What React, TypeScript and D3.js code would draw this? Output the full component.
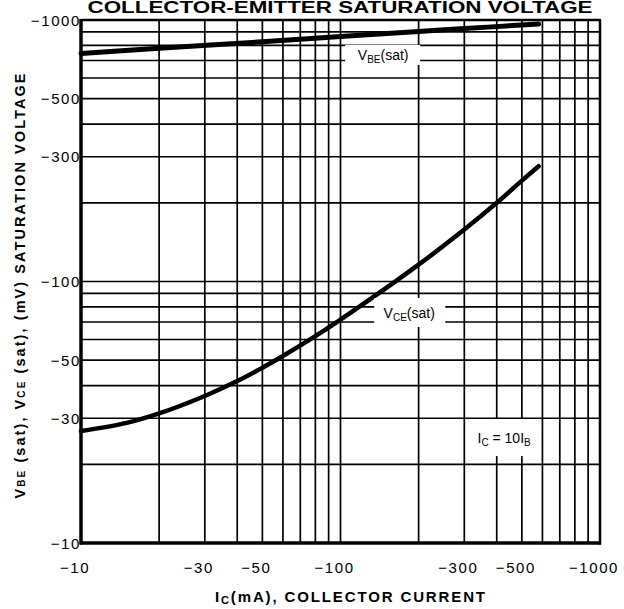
import React from "react";
import * as d3 from "d3";

const W = 624;
const H = 609;

// grid values (log decades)
const gridValues = [10, 20, 30, 40, 50, 60, 70, 80, 90, 100, 200, 300, 400, 500, 600, 700, 800, 900, 1000];
const xTickValues = [10, 30, 50, 100, 300, 500, 1000];
const yTickValues = [10, 30, 50, 100, 300, 500, 1000];

// V_BE(sat) curve
const icVbe = [10, 20, 50, 100, 200, 300, 500, 580];
const vbeSat = [745, 780, 825, 865, 904, 927, 957, 965];

// V_CE(sat) curve
const icVce = [10, 15, 20, 30, 40, 50, 60, 80, 100, 200, 300, 400, 500, 580];
const vceSat = [26.8, 28.8, 31.3, 36.5, 41.6, 46.8, 51.9, 61.8, 71.5, 116, 158, 200, 243, 276];

const FONT = "'Liberation Sans', Arial, Helvetica, sans-serif";

export default function App() {
  const left = 81, right = 600, top = 20, bottom = 543;
  const x = d3.scaleLog().domain([10, 1000]).range([left, right]);
  const y = d3.scaleLog().domain([10, 1000]).range([bottom, top]);

  const line = d3
    .line<[number, number]>()
    .x((d) => x(d[0]))
    .y((d) => y(d[1]))
    .curve(d3.curveCatmullRom.alpha(0.5));

  const vbePath = line(icVbe.map((v, i) => [v, vbeSat[i]]) as [number, number][]) || "";
  const vcePath = line(icVce.map((v, i) => [v, vceSat[i]]) as [number, number][]) || "";

  const fmt = (v: number) => "\u2212" + v;

  return (
    <svg
      width={W}
      height={H}
      viewBox={`0 0 ${W} ${H}`}
      style={{ position: "absolute", left: 0, top: 0, background: "#fff" }}
    >
      <rect x={0} y={0} width={W} height={H} fill="#fff" />
      {/* title */}
      <text
        x={340}
        y={12.5}
        textAnchor="middle"
        fontFamily={FONT}
        fontWeight="bold"
        fontSize={16}
        textLength={505}
        lengthAdjust="spacingAndGlyphs"
        fill="#000"
      >
        COLLECTOR-EMITTER SATURATION VOLTAGE
      </text>

      {/* grid */}
      <g stroke="#000" strokeWidth={1.7}>
        {gridValues.map((v) => (
          <line key={"gx" + v} x1={x(v)} x2={x(v)} y1={top} y2={bottom} />
        ))}
        {gridValues.map((v) => (
          <line key={"gy" + v} x1={left} x2={right} y1={y(v)} y2={y(v)} />
        ))}
      </g>

      {/* frame */}
      <line x1={left} x2={left} y1={top - 1} y2={bottom + 1.5} stroke="#000" strokeWidth={3.5} />
      <line x1={left - 1} x2={right + 1} y1={bottom} y2={bottom} stroke="#000" strokeWidth={3.5} />
      <line x1={left} x2={right + 1} y1={top} y2={top} stroke="#000" strokeWidth={2.5} />
      <line x1={right} x2={right} y1={top} y2={bottom + 1.5} stroke="#000" strokeWidth={2.5} />

      {/* curves */}
      <path d={vbePath} fill="none" stroke="#000" strokeWidth={5} strokeLinecap="round" />
      <path d={vcePath} fill="none" stroke="#000" strokeWidth={4.5} strokeLinecap="round" />

      {/* V_BE(sat) label */}
      <g fontFamily={FONT} fill="#000">
        <rect x={x(146) - 38} y={y(735) - 10} width={75} height={20} fill="#fff" />
        <text x={x(146)} y={y(735) + 5} textAnchor="middle" fontSize={14}>
          V<tspan fontSize={10} dy={3}>BE</tspan>
          <tspan dy={-3}>(sat)</tspan>
        </text>
      </g>

      {/* V_CE(sat) label */}
      <g fontFamily={FONT} fill="#000">
        <rect x={x(184) - 35} y={y(75.8) - 15} width={71} height={29} fill="#fff" />
        <text x={x(184)} y={y(75.8) + 5} textAnchor="middle" fontSize={14}>
          V<tspan fontSize={10} dy={3}>CE</tspan>
          <tspan dy={-3}>(sat)</tspan>
        </text>
      </g>

      {/* I_C = 10 I_B label */}
      <g fontFamily={FONT} fill="#000">
        <rect x={x(427) - 34} y={y(25.2) - 19} width={70} height={37} fill="#fff" />
        <text x={x(427)} y={y(25.2) + 5} textAnchor="middle" fontSize={14}>
          I<tspan fontSize={10} dy={3}>C</tspan>
          <tspan dy={-3}>{" = 10I"}</tspan>
          <tspan fontSize={10} dy={3}>B</tspan>
        </text>
      </g>

      {/* y tick labels */}
      <g fontFamily={FONT} fontSize={15} fill="#000" letterSpacing={1.6}>
        {yTickValues.map((v) => (
          <text key={"yt" + v} x={left} y={y(v) + 5.5} textAnchor="end">
            {fmt(v)}
          </text>
        ))}
      </g>

      {/* x tick labels */}
      <g fontFamily={FONT} fontSize={15} fill="#000" letterSpacing={1.6}>
        {xTickValues.map((v) => (
          <text key={"xt" + v} x={x(v) - 6} y={573} textAnchor="middle">
            {fmt(v)}
          </text>
        ))}
      </g>

      {/* x axis title */}
      <text
        x={350}
        y={602}
        textAnchor="middle"
        fontFamily={FONT}
        fontWeight="bold"
        fontSize={15}
        fill="#000"
        textLength={270}
        lengthAdjust="spacing"
      >
        I<tspan fontSize={11} dy={2}>C</tspan>
        <tspan dy={-2}>(mA), COLLECTOR CURRENT</tspan>
      </text>

      {/* y axis title */}
      <text
        transform="translate(25,286) rotate(-90)"
        textAnchor="middle"
        fontFamily={FONT}
        fontWeight="bold"
        fontSize={14.5}
        fill="#000"
        textLength={425}
        lengthAdjust="spacing"
      >
        V<tspan fontSize={10}>BE</tspan>
        <tspan>{" (sat), V"}</tspan>
        <tspan fontSize={10}>CE</tspan>
        <tspan>{" (sat), (mV)  SATURATION VOLTAGE"}</tspan>
      </text>
    </svg>
  );
}
